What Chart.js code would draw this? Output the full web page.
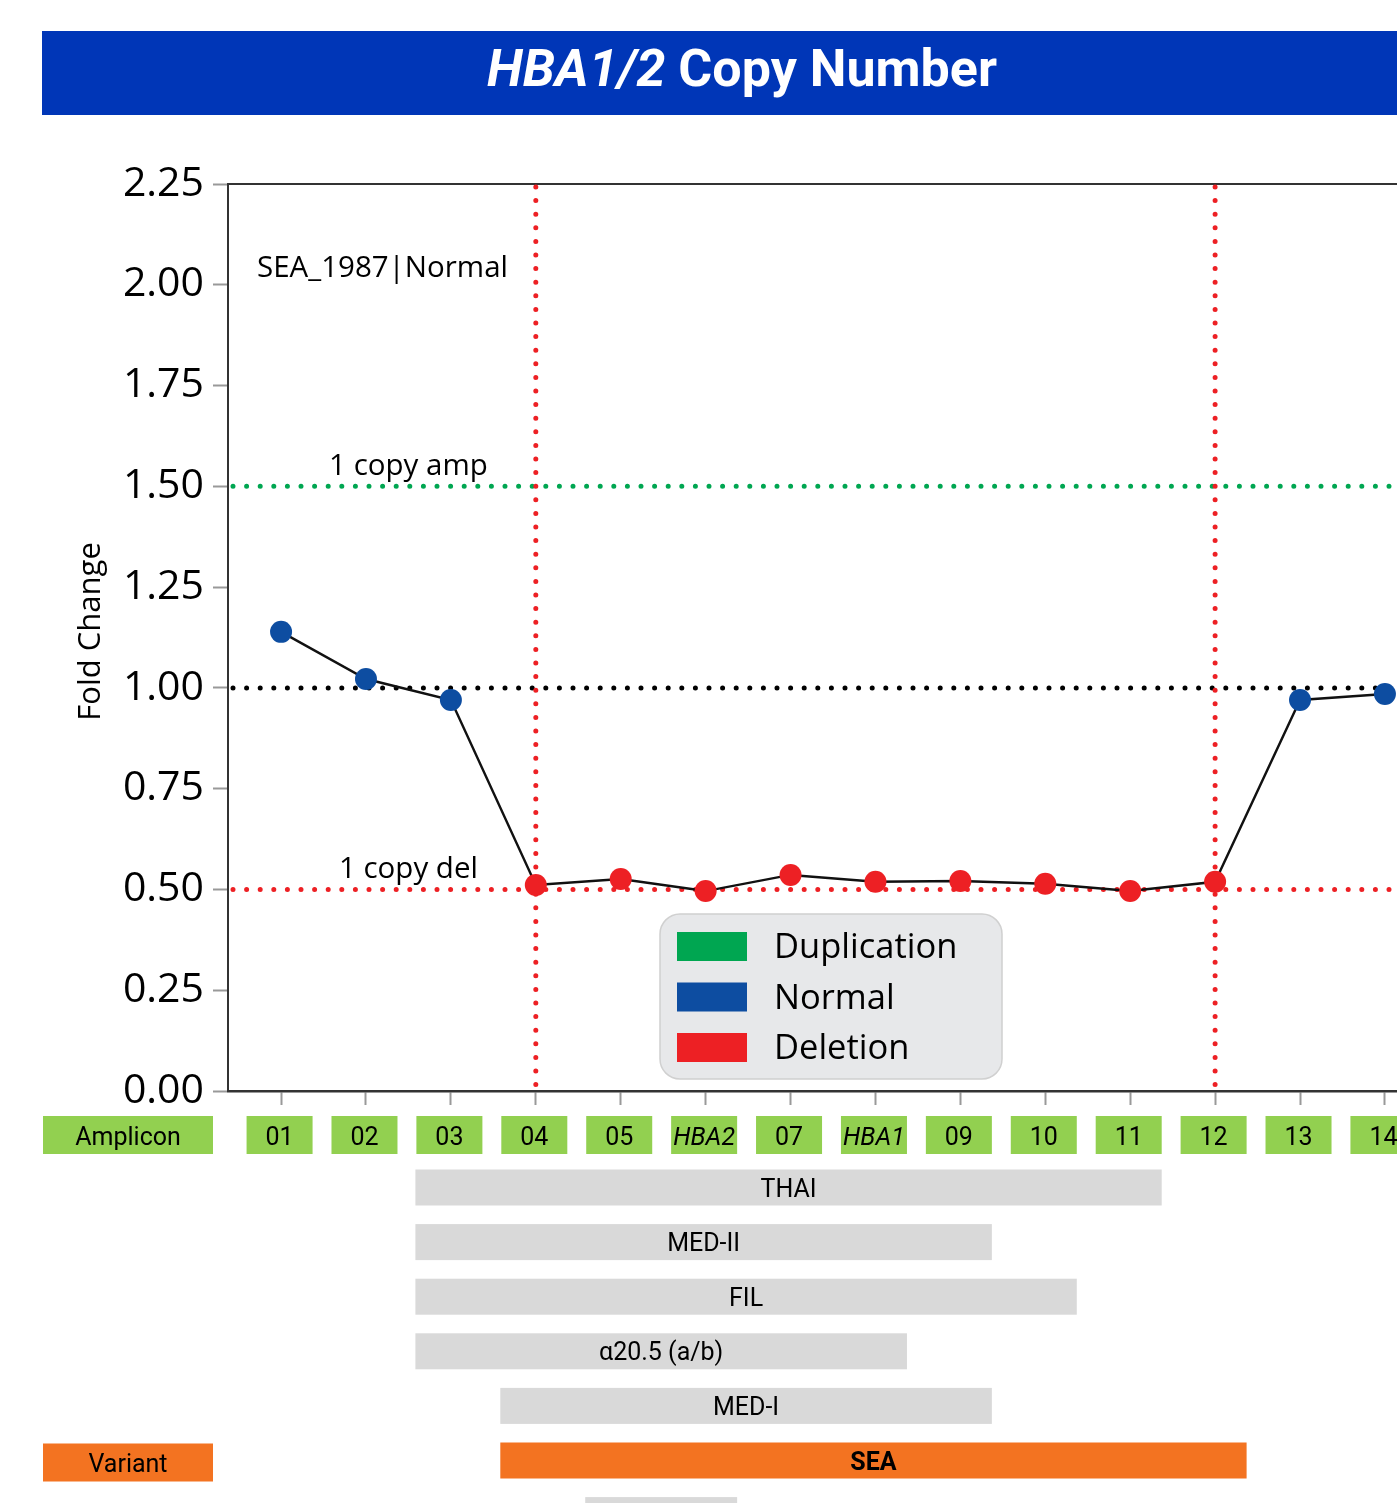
<!DOCTYPE html>
<html><head><meta charset="utf-8">
<script src="https://cdn.jsdelivr.net/npm/chart.js@4"></script>
<style>
html,body{margin:0;padding:0;overflow:hidden;background:#fff;}
#wrap{position:relative;width:1397px;height:1503px;overflow:hidden;}
#banner{position:absolute;left:42px;top:31px;width:1400px;height:84px;background:#0036B7;color:#fff;font:bold 52px Roboto;line-height:76px;text-align:center;white-space:nowrap;}
canvas{position:absolute;left:0;top:0;}
</style></head><body>
<div id="wrap">
<canvas id="c" width="1480" height="1540" style="width:1480px;height:1540px"></canvas>
<div id="banner"><i>HBA1/2</i> Copy Number</div>
</div>
<script>
// ---------- data ----------
const amplicons = ['01','02','03','04','05','HBA2','07','HBA1','09','10','11','12','13','14'];
const foldChange = [1.139,1.022,0.970,0.511,0.526,0.496,0.536,0.519,0.521,0.514,0.496,0.519,0.970,0.985];
const callStatus = ['Normal','Normal','Normal','Deletion','Deletion','Deletion','Deletion','Deletion','Deletion','Deletion','Deletion','Deletion','Normal','Normal'];
const legendLabels = ['Duplication','Normal','Deletion'];
const legendColors = ['#00A651','#0D4DA1','#ED2024'];
const yTickValues = [0,0.25,0.5,0.75,1,1.25,1.5,1.75,2,2.25];
const thresholdValues = [1.5,1.0,0.5];
const thresholdLabels = ['1 copy amp','','1 copy del'];
const thresholdColors = ['#00A651','#000000','#ED2024'];
const boundaryAmplicons = ['04','12'];
const sampleLabel = 'SEA_1987|Normal';
const yAxisTitle = 'Fold Change';
const variantNames = ['THAI','MED-II','FIL','α20.5 (a/b)','MED-I','SEA',''];
const variantStart = ['03','03','03','03','04','04','05'];
const variantEnd   = ['11','09','10','HBA1','09','12','HBA2'];
const detectedVariant = 'SEA';

// ---------- helpers ----------
const F = 'Open Sans';
const TF = 'Roboto';
const pos = n => amplicons.indexOf(n) + 1;
const colorOf = s => legendColors[legendLabels.indexOf(s)];

function roundRect(ctx,x,y,w,h,r){
  ctx.beginPath();
  ctx.moveTo(x+r,y);ctx.lineTo(x+w-r,y);ctx.arcTo(x+w,y,x+w,y+r,r);
  ctx.lineTo(x+w,y+h-r);ctx.arcTo(x+w,y+h,x+w-r,y+h,r);
  ctx.lineTo(x+r,y+h);ctx.arcTo(x,y+h,x,y+h-r,r);
  ctx.lineTo(x,y+r);ctx.arcTo(x,y,x+r,y,r);ctx.closePath();
}

const overlay = {
  id:'overlay',
  beforeDatasetsDraw(chart){
    const {ctx, chartArea:a, scales:{x,y}} = chart;
    ctx.save();
    ctx.strokeStyle='#333'; ctx.lineWidth=2;
    ctx.beginPath(); ctx.moveTo(a.left,a.top); ctx.lineTo(a.right,a.top); ctx.stroke();
    ctx.lineCap='round'; ctx.lineWidth=5; ctx.setLineDash([0,13.6]);
    thresholdValues.forEach((v,i)=>{
      const py=y.getPixelForValue(v);
      ctx.strokeStyle=thresholdColors[i];
      ctx.beginPath(); ctx.moveTo(a.left+5,py); ctx.lineTo(a.right,py); ctx.stroke();
    });
    boundaryAmplicons.forEach(n=>{
      const px=x.getPixelForValue(pos(n));
      ctx.strokeStyle='#ED2024';
      ctx.beginPath(); ctx.moveTo(px,a.top+3); ctx.lineTo(px,a.bottom-4); ctx.stroke();
    });
    ctx.setLineDash([]);
    ctx.fillStyle='#000'; ctx.font=`29.5px "${F}"`; ctx.textAlign='center'; ctx.textBaseline='alphabetic';
    const lx = (x.getPixelForValue(2)+x.getPixelForValue(3))/2;
    thresholdValues.forEach((v,i)=>{
      if(thresholdLabels[i]) ctx.fillText(thresholdLabels[i], lx, y.getPixelForValue(v)-11);
    });
    ctx.textAlign='left';
    ctx.font=`29.5px "${F}"`;
    ctx.fillText(sampleLabel, a.left+29, a.top+93);
    // y axis title
    ctx.save();
    ctx.translate(100, y.getPixelForValue(1.14));
    ctx.rotate(-Math.PI/2);
    ctx.font=`31px "${F}"`; ctx.textAlign='center';
    ctx.fillText(yAxisTitle, 0, 0);
    ctx.restore();
    ctx.restore();
  },
  afterDraw(chart){
    const {ctx, chartArea:a, scales:{x}} = chart;
    ctx.save();
    // legend
    const lgX=660, lgY=a.bottom-177;
    roundRect(ctx,lgX,lgY,342,165,20);
    ctx.fillStyle='#E7E8EA'; ctx.fill();
    ctx.strokeStyle='#D0D0D0'; ctx.lineWidth=1.5; ctx.stroke();
    ctx.font=`34.5px "${F}"`; ctx.textAlign='left'; ctx.textBaseline='alphabetic';
    legendLabels.forEach((l,i)=>{
      ctx.fillStyle=legendColors[i];
      ctx.fillRect(lgX+17, lgY+18+i*50.5, 70, 29);
      ctx.fillStyle='#000';
      ctx.fillText(l, lgX+114, lgY+44+i*50.5);
    });
    // tracks
    const cx = n => x.getPixelForValue(pos(n)) - 1.5;
    const half = 33;
    const ampTop = a.bottom + 25, ampH = 38;
    ctx.textAlign='center';
    ctx.fillStyle='#92D050';
    ctx.fillRect(43, ampTop, 170, ampH);
    amplicons.forEach(n=>{ ctx.fillStyle='#92D050'; ctx.fillRect(cx(n)-half, ampTop, 2*half, ampH); });
    ctx.fillStyle='#000';
    ctx.font=`25px ${TF}`;
    ctx.fillText('Amplicon', 128, ampTop+29);
    amplicons.forEach(n=>{
      ctx.font = (n.startsWith('HBA')?'italic ':'') + `25px ${TF}`;
      ctx.fillText(n, cx(n), ampTop+29);
    });
    const rowTop0 = a.bottom + 78.5, pitch = 54.6, rowH = 36;
    variantNames.forEach((v,i)=>{
      const top = rowTop0 + i*pitch;
      const l = cx(variantStart[i]) - half - 1, r = cx(variantEnd[i]) + half;
      const hi = v === detectedVariant;
      ctx.fillStyle = hi ? '#F37321' : '#D9D9D9';
      ctx.fillRect(l, top, r-l, rowH);
      if(hi){
        ctx.fillRect(43, top+1, 170, 38);
        ctx.fillStyle='#000'; ctx.font=`25px ${TF}`;
        ctx.fillText('Variant', 128, top+29);
      }
      ctx.fillStyle='#000';
      ctx.font = (hi?'bold ':'') + `25px ${TF}`;
      if(v) ctx.fillText(v, (l+r)/2, top+27);
    });
    ctx.restore();
  }
};

Chart.defaults.font.family = F;
Chart.defaults.color = '#000';

new Chart(document.getElementById('c'), {
  type:'line',
  data:{
    datasets:[{
      data: amplicons.map((n,i)=>({x:i+1, y:foldChange[i]})),
      borderColor:'#111', borderWidth:2.4,
      pointRadius:11, pointHoverRadius:11, pointBorderWidth:0,
      pointBackgroundColor: callStatus.map(colorOf),
      pointBorderColor: callStatus.map(colorOf),
      tension:0, clip:false
    }]
  },
  options:{
    responsive:false, animation:false, devicePixelRatio:1,
    events:[],
    layout:{padding:{left:0, top:184, right:42, bottom:1540-1091-14}},
    plugins:{legend:{display:false}, tooltip:{enabled:false}},
    scales:{
      x:{
        type:'linear', min:0.375, max:14.625,
        afterBuildTicks:s=>{ s.ticks = amplicons.map((n,i)=>({value:i+1})); },
        ticks:{display:false},
        grid:{drawOnChartArea:false, tickLength:14, tickColor:'#999', tickWidth:2},
        border:{color:'#333', width:2.5},
        afterFit:s=>{ s.height=14; s.paddingLeft=0; s.paddingRight=0; }
      },
      y:{
        min:0, max:2.25,
        afterBuildTicks:s=>{ s.ticks = yTickValues.map(v=>({value:v})); },
        ticks:{font:{size:41, family:F, weight:'500'}, color:'#000', padding:9, callback:v=>Number(v).toFixed(2)},
        grid:{drawOnChartArea:false, tickLength:15, tickColor:'#999', tickWidth:2},
        border:{color:'#333', width:2},
        title:{display:false},
        afterFit:s=>{ s.width=228; s.paddingTop=0; s.paddingBottom=0; }
      }
    }
  },
  plugins:[overlay]
});
</script>
</body></html>
